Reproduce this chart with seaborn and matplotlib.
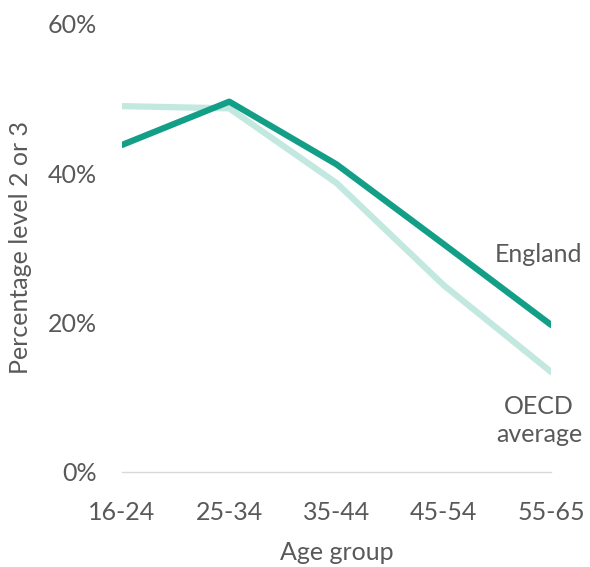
import pandas as pd
import matplotlib.pyplot as plt
import seaborn as sns
from matplotlib.ticker import PercentFormatter

# values (%)
age_groups = ["16-24", "25-34", "35-44", "45-54", "55-65"]
england = [43.8, 49.6, 41.2, 30.5, 19.7]
oecd = [49.0, 48.7, 38.7, 25.0, 13.4]

df = pd.DataFrame({
    "Age group": age_groups * 2,
    "Share": england + oecd,
    "Series": ["England"] * 5 + ["OECD average"] * 5,
})

sns.set_style("white")
plt.rcParams["font.family"] = ["Lato", "DejaVu Sans"]
grey = "#595959"
fs = 18

fig = plt.figure(figsize=(5.9, 5.67), dpi=100)
ax = fig.add_axes([0.2068, 0.1676, 0.7272, 0.7901])

palette = {"England": "#139f87", "OECD average": "#c3e8e0"}
# draw OECD first so England sits on top
sns.lineplot(data=df, x="Age group", y="Share", hue="Series",
             hue_order=["OECD average", "England"], palette=palette,
             linewidth=4.5, sort=False, legend=False, ax=ax)

ax.set_ylim(0, 60)
ax.set_yticks([0, 20, 40, 60])
ax.yaxis.set_major_formatter(PercentFormatter(decimals=0))
ax.set_xlim(0, len(age_groups) - 1)
ax.margins(x=0)

for s in ["top", "right", "left"]:
    ax.spines[s].set_visible(False)
ax.spines["bottom"].set_color("#d9d9d9")
ax.spines["bottom"].set_linewidth(1)

ax.tick_params(axis="both", length=0, labelsize=fs, colors=grey)
ax.tick_params(axis="y", pad=18)
ax.tick_params(axis="x", pad=21)

ax.set_xlabel("Age group", fontsize=fs, color=grey, labelpad=12)
ax.set_ylabel("Percentage level 2 or 3", fontsize=fs, color=grey, labelpad=11)

# series labels sit just right of the last point, inside the figure
ax.text(3.88, 29.1, "England", fontsize=fs, color=grey, ha="center", va="center")
ax.text(3.89, 6.9, "OECD\naverage", fontsize=fs, color=grey, ha="center",
        va="center", linespacing=1.3)

fig.savefig("out.png", dpi=100)
